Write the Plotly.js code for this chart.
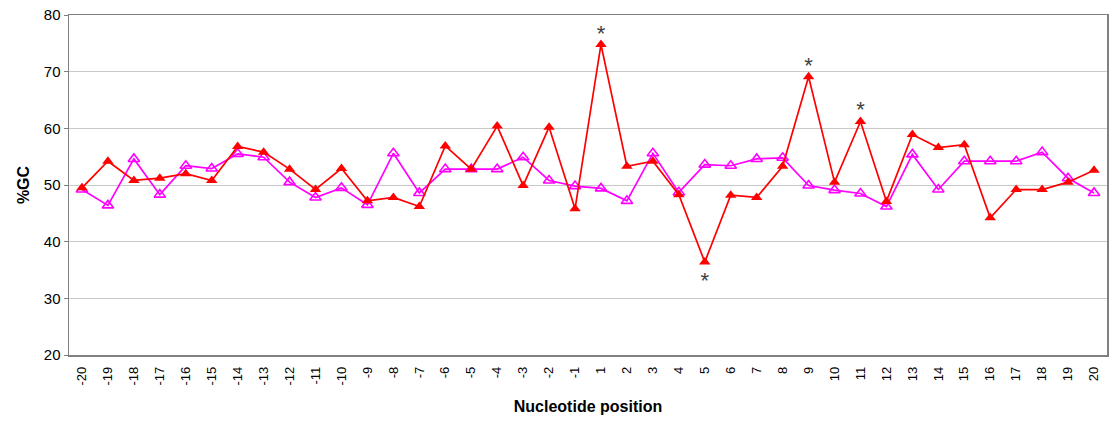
<!DOCTYPE html>
<html>
<head>
<meta charset="utf-8">
<script src="https://cdn.plot.ly/plotly-3.0.1.min.js"></script>
<style>
  html, body { margin: 0; padding: 0; background: #fff; }
  #chart { width: 1113px; height: 424px; }
</style>
</head>
<body>
<div id="chart"></div>
<script>
const positions = ['-20','-19','-18','-17','-16','-15','-14','-13','-12','-11','-10',
  '-9','-8','-7','-6','-5','-4','-3','-2','-1',
  '1','2','3','4','5','6','7','8','9','10',
  '11','12','13','14','15','16','17','18','19','20'];

const redValues = [49.5, 54.2, 50.8, 51.2, 52.0, 50.8, 56.8, 55.8, 52.8, 49.2, 52.9,
  47.2, 47.8, 46.2, 56.9, 52.8, 60.4, 49.9, 60.2, 45.8,
  74.8, 53.3, 54.2, 48.3, 36.4, 48.2, 47.8, 53.3, 69.1, 50.5,
  61.2, 47.1, 58.9, 56.6, 57.1, 44.2, 49.2, 49.2, 50.5, 52.6];

const magentaValues = [49.2, 46.4, 54.6, 48.3, 53.4, 52.9, 55.5, 54.9, 50.5, 47.8, 49.5,
  46.5, 55.6, 48.6, 52.8, 52.8, 52.8, 54.9, 50.8, 49.8,
  49.4, 47.2, 55.6, 48.7, 53.6, 53.4, 54.6, 54.8, 49.9, 49.1,
  48.5, 46.2, 55.4, 49.2, 54.2, 54.2, 54.2, 55.8, 51.2, 48.6];

const starPositions = ['1', '9', '11', '5'];
const starValues = [76.3, 70.8, 62.9, 32.8];

const traces = [
  {
    x: positions, y: magentaValues, type: 'scatter', mode: 'lines+markers',
    line: { color: '#FF00FF', width: 1.7 },
    marker: { symbol: 'triangle-up-open', size: 10, color: '#FF00FF', line: { width: 1.6, color: '#FF00FF' } },
    showlegend: false, hoverinfo: 'x+y'
  },
  {
    x: positions, y: redValues, type: 'scatter', mode: 'lines+markers',
    line: { color: '#FF0000', width: 1.7 },
    marker: { symbol: 'triangle-up', size: 10, color: '#FF0000' },
    showlegend: false, hoverinfo: 'x+y'
  },
  {
    x: starPositions, y: starValues, type: 'scatter', mode: 'text',
    text: starPositions.map(() => '*'),
    textposition: 'middle center',
    textfont: { family: 'Liberation Sans, Arial, sans-serif', size: 22, color: '#404040' },
    showlegend: false, hoverinfo: 'skip'
  }
];

const layout = {
  width: 1113, height: 424,
  margin: { l: 69, r: 6, t: 15, b: 69 },
  paper_bgcolor: '#ffffff', plot_bgcolor: '#ffffff',
  font: { family: 'Liberation Sans, Arial, sans-serif', color: '#000' },
  xaxis: {
    type: 'category',
    categoryorder: 'array', categoryarray: positions,
    range: [-0.5, 39.5],
    tickangle: -90,
    tickfont: { size: 13, color: '#000' },
    ticklabelstandoff: 5,
    showgrid: false,
    showline: true, linecolor: '#808080', linewidth: 1.5, mirror: true,
    ticks: '', zeroline: false,
    title: { text: '<b>Nucleotide position</b>', font: { size: 16, color: '#000' }, standoff: 16 }
  },
  yaxis: {
    range: [20, 80],
    dtick: 10,
    tickfont: { size: 15, color: '#000' },
    showgrid: true, gridcolor: '#C8C8C8', gridwidth: 1,
    showline: true, linecolor: '#808080', linewidth: 1.5, mirror: true,
    ticks: 'outside', ticklen: 4, tickcolor: '#808080',
    zeroline: false,
    title: { text: '<b>%GC</b>', font: { size: 16, color: '#000' }, standoff: 10 }
  }
};

Plotly.newPlot('chart', traces, layout, { displayModeBar: false, staticPlot: true });
</script>
</body>
</html>
